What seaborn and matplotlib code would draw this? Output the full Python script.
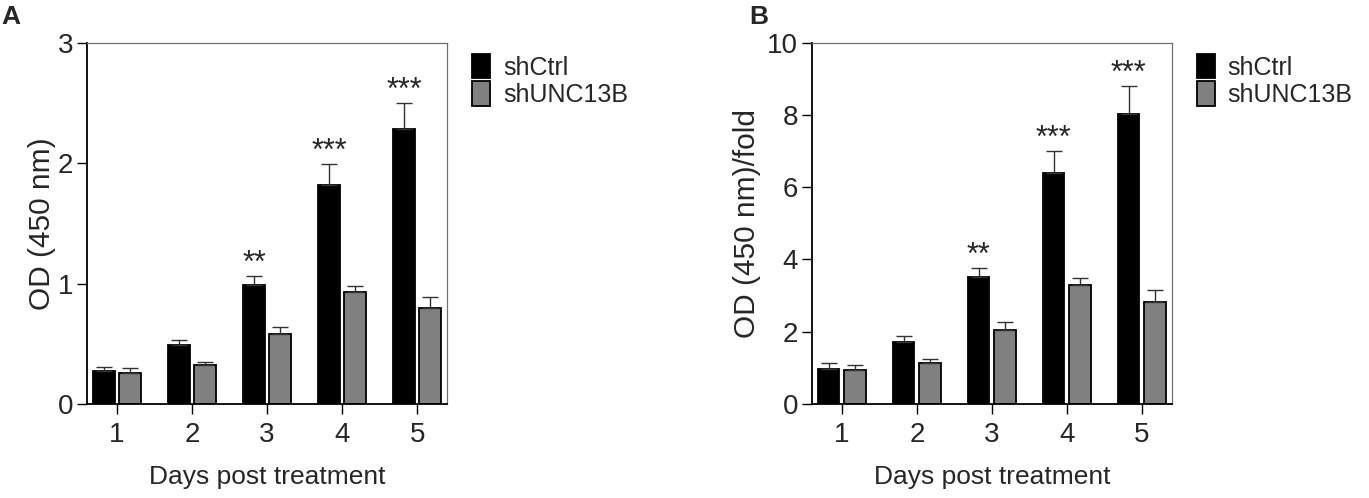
import numpy as np
import pandas as pd
import seaborn as sns
import matplotlib.pyplot as plt
from matplotlib.patches import Patch

sns.set_style("white")
plt.rcParams["font.family"] = ["Liberation Sans", "DejaVu Sans"]

days = ["1", "2", "3", "4", "5"]
groups = ["shCtrl", "shUNC13B"]

# panel A: OD (450 nm)
od_ctrl = [0.27, 0.49, 0.99, 1.82, 2.28]
od_ctrl_err = [0.04, 0.04, 0.07, 0.17, 0.22]
od_unc = [0.26, 0.32, 0.58, 0.93, 0.80]
od_unc_err = [0.04, 0.03, 0.06, 0.05, 0.09]

# panel B: fold change
fold_ctrl = [0.97, 1.72, 3.51, 6.39, 8.03]
fold_ctrl_err = [0.15, 0.15, 0.24, 0.61, 0.77]
fold_unc = [0.95, 1.14, 2.05, 3.30, 2.81]
fold_unc_err = [0.12, 0.11, 0.22, 0.19, 0.35]

stars = ["", "", "**", "***", "***"]

colors = {"shCtrl": "#000000", "shUNC13B": "#808080"}


def make_df(ctrl, unc):
    return pd.DataFrame({
        "day": days * 2,
        "group": ["shCtrl"] * 5 + ["shUNC13B"] * 5,
        "value": list(ctrl) + list(unc),
    })


def draw_panel(ax, ctrl, ctrl_err, unc, unc_err, ylim, yticks, ylabel, star_off, ylpad):
    df = make_df(ctrl, unc)
    sns.barplot(data=df, x="day", y="value", hue="group", order=days,
                hue_order=groups, palette=colors, errorbar=None,
                width=0.7, gap=0.18, edgecolor="black", linewidth=1.3,
                ax=ax, legend=False)
    # upper-only error bars
    for cont, err in zip(ax.containers, [ctrl_err, unc_err]):
        xs = [b.get_x() + b.get_width() / 2 for b in cont]
        ys = [b.get_height() for b in cont]
        ax.errorbar(xs, ys, yerr=[np.zeros(len(err)), err], fmt="none",
                    ecolor="#333333", elinewidth=1.0, capsize=5.5, capthick=1.0)
    # significance marks over the shCtrl bars
    for b, e, s in zip(ax.containers[0], ctrl_err, stars):
        if s:
            ax.text(b.get_x() + b.get_width() / 2, b.get_height() + e + star_off,
                    s, ha="center", va="bottom", fontsize=22)
    ax.set_xlim(-0.4, 4.4)
    ax.set_ylim(*ylim)
    ax.set_yticks(yticks)
    ax.set_xlabel("Days post treatment", fontsize=19, labelpad=12)
    ax.set_ylabel(ylabel, fontsize=21.5, labelpad=ylpad)
    ax.tick_params(axis="both", labelsize=20, length=7, width=1,
                   direction="out", color="black")
    ax.tick_params(axis="x", bottom=True, pad=6)
    ax.tick_params(axis="y", left=True, pad=3)
    for side in ["left", "bottom"]:
        ax.spines[side].set_color("black")
        ax.spines[side].set_linewidth(1.3)
    for side in ["top", "right"]:
        ax.spines[side].set_color("#707070")
        ax.spines[side].set_linewidth(0.9)
    handles = [Patch(facecolor=colors[g], edgecolor="black", linewidth=1.3, label=g)
               for g in groups]
    ax.legend(handles=handles, loc="upper left", bbox_to_anchor=(1.07, 0.97),
              frameon=False, fontsize=18, handlelength=0.72, handleheight=1.15,
              handletextpad=0.5, labelspacing=0.05, borderaxespad=0, borderpad=0)


fig = plt.figure(figsize=(13.69, 4.98), dpi=100)
axA = fig.add_axes([0.0636, 0.189, 0.263, 0.725])
axB = fig.add_axes([0.593, 0.189, 0.263, 0.725])

draw_panel(axA, od_ctrl, od_ctrl_err, od_unc, od_unc_err, (0, 3), [0, 1, 2, 3],
           "OD (450 nm)", -0.02, 1)
draw_panel(axB, fold_ctrl, fold_ctrl_err, fold_unc, fold_unc_err, (0, 10),
           [0, 2, 4, 6, 8, 10], "OD (450 nm)/fold", -0.07, 4)

fig.text(0.001, 0.99, "A", fontsize=19, fontweight="bold", va="top", ha="left")
fig.text(0.547, 0.99, "B", fontsize=19, fontweight="bold", va="top", ha="left")

fig.savefig("out.png", dpi=100)
